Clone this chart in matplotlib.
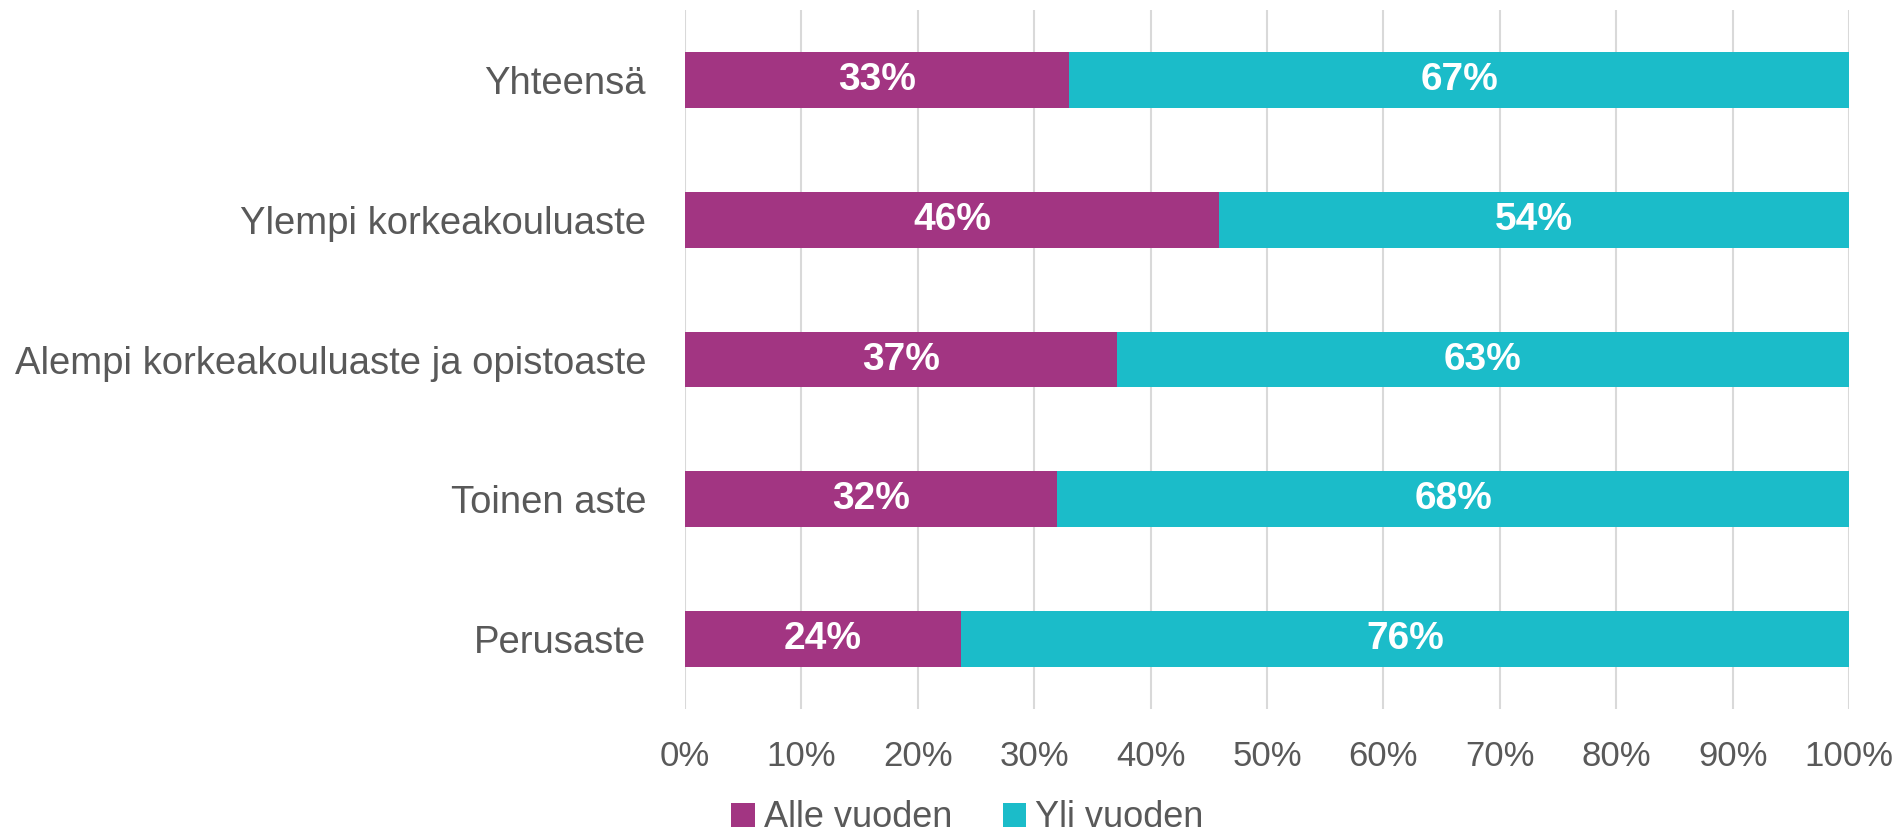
import matplotlib
matplotlib.use("Agg")
import matplotlib.pyplot as plt
from matplotlib.ticker import FuncFormatter
import numpy as np

# data
categories = ["Perusaste", "Toinen aste", "Alempi korkeakouluaste ja opistoaste",
              "Ylempi korkeakouluaste", "Yhteensä"]
alle_vuoden = [23.7, 32.0, 37.1, 45.9, 33.0]
yli_vuoden = [76.3, 68.0, 62.9, 54.1, 67.0]
series_names = ["Alle vuoden", "Yli vuoden"]
x_ticks = [0, 10, 20, 30, 40, 50, 60, 70, 80, 90, 100]

PURPLE = "#A23582"
TEAL = "#1BBCC9"
GREY_TXT = "#595959"

plt.rcParams['font.family'] = ['Liberation Sans', 'DejaVu Sans']

fig = plt.figure(figsize=(19.01, 8.38), dpi=100)
ax = fig.add_axes([0.3603, 0.154, 0.6124, 0.834])

y = np.arange(len(categories))
b1 = ax.barh(y, alle_vuoden, height=0.4, color=PURPLE, label=series_names[0], zorder=3)
b2 = ax.barh(y, yli_vuoden, left=alle_vuoden, height=0.4, color=TEAL, label=series_names[1], zorder=3)

for bars, vals in ((b1, alle_vuoden), (b2, yli_vuoden)):
    for rect, v in zip(bars, vals):
        cx = rect.get_x() + rect.get_width() / 2
        cy = rect.get_y() + rect.get_height() / 2
        ax.text(cx, cy, "{:.0f}%".format(v), ha="center", va="center",
                color="white", fontsize=28, fontweight="bold", zorder=4)

ax.set_xlim(0, 100)
ax.set_ylim(-0.5, len(categories) - 0.5)
ax.set_xticks(x_ticks)
ax.xaxis.set_major_formatter(FuncFormatter(lambda v, p: "{:.0f}%".format(v)))
ax.set_yticks(y)
ax.set_yticklabels(categories)
ax.tick_params(axis="x", length=0, pad=22, labelsize=25, labelcolor=GREY_TXT)
ax.tick_params(axis="y", length=0, pad=28, labelsize=27.5, labelcolor=GREY_TXT)

ax.grid(axis="x", color="#D9D9D9", linewidth=1.5, zorder=0)
for s in ax.spines.values():
    s.set_visible(False)

fig.legend(handles=[b1, b2], labels=series_names, loc="center",
           bbox_to_anchor=(0.509, 0.024), ncol=2, frameon=False,
           fontsize=26, labelcolor=GREY_TXT, handlelength=0.65, handleheight=0.65,
           handletextpad=0.25, columnspacing=1.4)

fig.savefig("out.png", dpi=100)
